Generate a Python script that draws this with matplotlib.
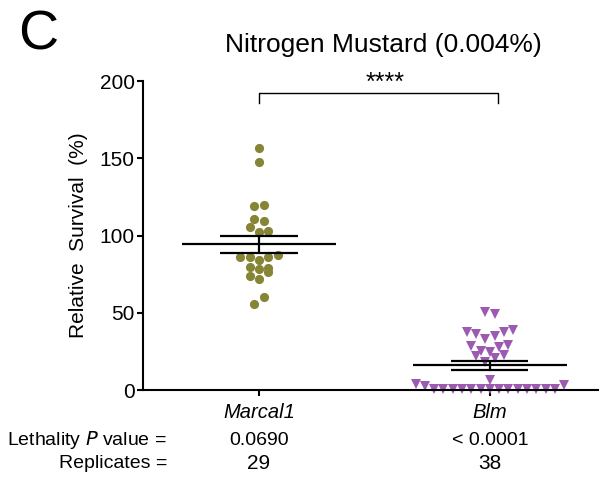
import numpy as np
import matplotlib
matplotlib.use("Agg")
import matplotlib.pyplot as plt
import matplotlib.transforms as mtransforms

plt.rcParams['font.family'] = ['Liberation Sans', 'DejaVu Sans']

# Relative survival (%) per replicate, listed row by row (left to right)
marcal1_vals = [156.4, 147.4, 118.9, 119.7, 110.9, 109.2, 105.3, 102.5, 103.1,
                86.3, 85.9, 84.1, 85.9, 87.6, 79.6, 78.1, 79.2, 73.6, 71.8, 76.2,
                55.5, 60.4]
blm_vals = [50.3, 49.0, 37.7, 36.0, 32.8, 35.1, 37.5, 38.8,
            28.5, 25.4, 24.6, 28.0, 29.1, 22.0, 18.3, 20.9, 22.4, 6.5,
            3.9, 2.6] + [0.4] * 14 + [3.0]

genes = ["Marcal1", "Blm"]
p_values = ["0.0690", "< 0.0001"]
replicates = ["29", "38"]
significance = "****"

OLIVE = "#858535"
PURPLE = "#9C5BB0"


def row_offsets(vals, bin_width, step):
    """GraphPad-style scatter: values falling in one bin sit side by side."""
    vals = np.asarray(vals, dtype=float)
    order = np.argsort(vals, kind="stable")
    offsets = np.zeros(len(vals))
    groups, current, start = [], [], None
    for idx in order:
        if current and vals[idx] >= start + bin_width:
            groups.append(current)
            current = []
        if not current:
            start = vals[idx]
        current.append(idx)
    groups.append(current)
    for g in groups:
        g = sorted(g)
        n = len(g)
        for k, idx in enumerate(g):
            offsets[idx] = (k - (n - 1) / 2) * step
    return offsets


fig = plt.figure(figsize=(6.05, 4.78), dpi=100)
ax = fig.add_axes([0.2364, 0.1841, 0.752, 0.6464])

columns = [(marcal1_vals, 5.5, OLIVE, "o", 6.6),
           (blm_vals, 6.05, PURPLE, "v", 7.0)]

for i, (vals, bw, color, marker, ms) in enumerate(columns):
    x0 = i + 1
    xs = x0 + row_offsets(vals, bw, 0.0402)
    ax.plot(xs, vals, linestyle="none", marker=marker, markersize=ms,
            color=color, markeredgewidth=0, clip_on=False, zorder=2)

    # mean with SEM
    arr = np.asarray(vals)
    mean = arr.mean()
    sem = arr.std(ddof=1) / np.sqrt(len(arr))
    ax.hlines(mean, x0 - 0.335, x0 + 0.335, color="black", lw=1.6, zorder=3)
    ax.hlines([mean - sem, mean + sem], x0 - 0.167, x0 + 0.167,
              color="black", lw=1.6, zorder=3)
    ax.vlines(x0, mean - sem, mean + sem, color="black", lw=1.6, zorder=3)

# significance bracket
ax.plot([1, 1, 2.035, 2.035], [185.5, 192, 192, 185.5], color="black",
        lw=1.0, clip_on=False)
ax.text(1.545, 194.5, significance, ha="center", va="baseline", fontsize=18)

ax.set_xlim(0.498, 2.468)
ax.set_ylim(0, 200)
ax.set_yticks([0, 50, 100, 150, 200])
ax.set_xticks([1, 2])
ax.set_xticklabels([])
ax.tick_params(axis="both", direction="out", width=1.5, labelsize=15)
ax.tick_params(axis="y", length=4, pad=2)
ax.tick_params(axis="x", length=4)
for side in ["top", "right"]:
    ax.spines[side].set_visible(False)
for side in ["left", "bottom"]:
    ax.spines[side].set_linewidth(1.5)
ax.set_ylabel("Relative  Survival  (%)", fontsize=15, labelpad=8)

# labels below the axis
trans = mtransforms.blended_transform_factory(ax.transData, fig.transFigure)
for i, gene in enumerate(genes):
    ax.text(i + 1, 0.138, gene, transform=trans, ha="center", va="center",
            fontsize=14.5, style="italic")
    ax.text(i + 1, 0.079, p_values[i], transform=trans, ha="center",
            va="center", fontsize=14)
    ax.text(i + 1, 0.031, replicates[i], transform=trans, ha="center",
            va="center", fontsize=15)

fig.text(0.276, 0.079, "Lethality $\\it{P}$ value =", ha="right", va="center",
         fontsize=14)
fig.text(0.276, 0.031, "Replicates =", ha="right", va="center", fontsize=14)

fig.text(0.633, 0.906, "Nitrogen Mustard (0.004%)", ha="center", va="center",
         fontsize=19)
fig.text(0.030, 0.8954, "C", ha="left", va="baseline", fontsize=40)

fig.savefig("out.png", dpi=100)
